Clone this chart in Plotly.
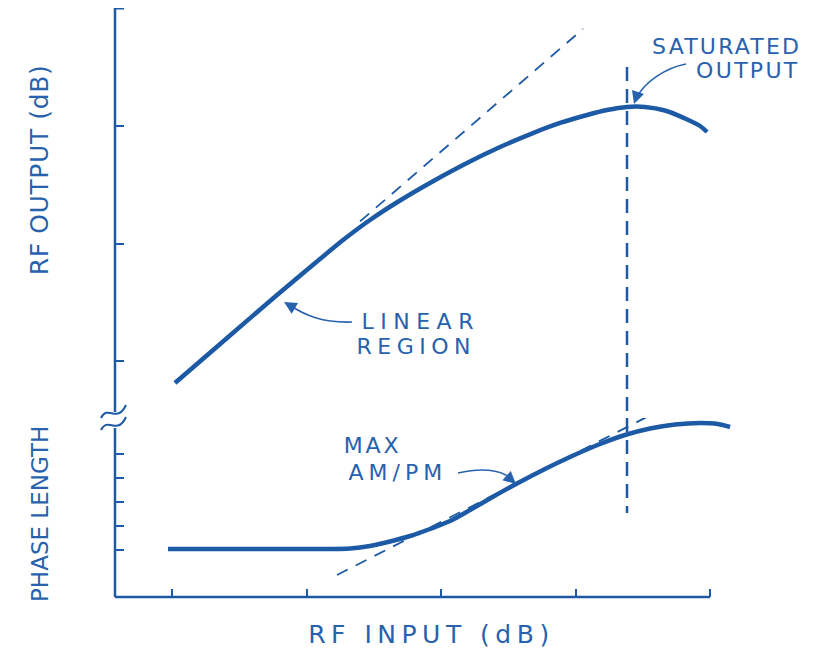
import plotly.graph_objects as go

# ---------------- data (x: RF input units, ticks at 1..5) ----------------
x_ticks = [1, 2, 3, 4, 5]
out_ticks = [1, 2, 3, 4]          # RF output axis (upper panel)
phase_ticks = [1, 2, 3, 4, 5]     # phase length axis (lower panel)

out_x = [1.022, 1.431, 1.781, 2.100, 2.286, 2.472, 2.695, 2.941, 3.193, 3.439,
         3.684, 3.885, 4.086, 4.234, 4.383, 4.517, 4.665, 4.814, 4.926, 4.978]
out_y = [0.813, 1.217, 1.562, 1.868, 2.042, 2.200, 2.366, 2.530, 2.685, 2.821,
         2.940, 3.026, 3.094, 3.136, 3.162, 3.162, 3.132, 3.064, 3.000, 2.949]

lin_x = [2.398, 4.056]            # linear-gain extension (dashed)
lin_y = [2.188, 3.826]

ph_x = [0.970, 1.580, 2.175, 2.323, 2.472, 2.621, 2.770, 2.918, 3.067, 3.216,
        3.364, 3.565, 3.773, 3.959, 4.182, 4.368, 4.554, 4.740, 4.926, 5.059, 5.149]
ph_y = [1.042, 1.042, 1.042, 1.063, 1.167, 1.354, 1.583, 1.875, 2.208, 2.667,
        3.146, 3.771, 4.375, 4.875, 5.417, 5.792, 6.063, 6.229, 6.292, 6.250, 6.125]

amp_x = [2.227, 5.186]            # AM/PM tangent (dashed)
amp_y = [-0.042, 8.417]

sat_x = 4.383                     # input level of saturated output
sat_out_y = [3.502, 0.515]
sat_ph_y = [6.50, 2.54]

# ---------------- styling / layout geometry ----------------
BLUE = "#1d5aa6"
TXT = "#2862ad"
FONT = "DejaVu Sans"
OFF = 8                              # page body margin
W, H = 813 - OFF, 649 - OFF
L, R, T, B = 115, 740, 8, 597        # plot area in page pixels
X0 = 1 - 57 / 134.5
X1 = X0 + (R - L) / 134.5
OUT_RANGE = [1 - (418 - 361) / 117.5, 4 + 0.5 / 117.5]
PH_RANGE = [1 - (B - 550) / 24, 1 + (550 - 365) / 24]


def px(xp):
    return (xp - L) / (R - L)


def py(yp):
    return (B - yp) / (B - T)


fig = go.Figure()
fig.add_trace(go.Scatter(x=out_x, y=out_y, xaxis="x", yaxis="y2", mode="lines",
                         line=dict(color=BLUE, width=4.5, shape="spline", smoothing=0.9),
                         hoverinfo="skip"))
fig.add_trace(go.Scatter(x=lin_x, y=lin_y, xaxis="x", yaxis="y2", mode="lines",
                         line=dict(color=BLUE, width=1.8, dash="12px,9px"), hoverinfo="skip"))
fig.add_trace(go.Scatter(x=[sat_x, sat_x], y=sat_out_y, xaxis="x", yaxis="y2", mode="lines",
                         line=dict(color=BLUE, width=2.5, dash="14px,8px"), hoverinfo="skip"))
fig.add_trace(go.Scatter(x=ph_x, y=ph_y, xaxis="x", yaxis="y", mode="lines",
                         line=dict(color=BLUE, width=4.5, shape="spline", smoothing=0.8),
                         hoverinfo="skip"))
fig.add_trace(go.Scatter(x=amp_x, y=amp_y, xaxis="x", yaxis="y", mode="lines",
                         line=dict(color=BLUE, width=1.8, dash="12px,9px"), hoverinfo="skip"))
fig.add_trace(go.Scatter(x=[sat_x, sat_x], y=sat_ph_y, xaxis="x", yaxis="y", mode="lines",
                         line=dict(color=BLUE, width=2.5, dash="14px,8px"), hoverinfo="skip"))

shapes = []
# axis lines
shapes.append(dict(type="line", xref="x", yref="paper", x0=X0, x1=x_ticks[-1], y0=0, y1=0,
                   line=dict(color=BLUE, width=2.5)))
shapes.append(dict(type="line", xref="paper", yref="y2", x0=0, x1=0,
                   y0=OUT_RANGE[1], y1=1 - (412 - 361) / 117.5, line=dict(color=BLUE, width=2.5)))
shapes.append(dict(type="line", xref="paper", yref="y", x0=0, x1=0,
                   y0=PH_RANGE[0], y1=1 + (550 - 428) / 24, line=dict(color=BLUE, width=2.5)))
# short cap tick at the top end of the output axis
shapes.append(dict(type="line", xref="paper", yref="y2", x0=0, x1=px(124),
                   y0=out_ticks[-1], y1=out_ticks[-1], line=dict(color=BLUE, width=2)))


def path(pts):
    s = "M %.4f %.4f C" % (px(pts[0][0]), py(pts[0][1]))
    for p in pts[1:]:
        s += " %.4f %.4f" % (px(p[0]), py(p[1]))
    return s


# axis break squiggles
for dy in (0, 12):
    shapes.append(dict(type="path", xref="paper", yref="paper",
                       path=path([(101, 418 + dy), (108, 404 + dy), (117, 424 + dy), (126, 405 + dy)]),
                       line=dict(color=BLUE, width=2)))
# curved arrow bodies
for pts in ([(352, 322), (322, 323), (305, 315), (291, 306)],
            [(686, 64), (665, 68), (645, 82), (637, 97)],
            [(458, 473), (480, 468), (500, 469), (510, 478)]):
    shapes.append(dict(type="path", xref="paper", yref="paper", path=path(pts),
                       line=dict(color=TXT, width=1.6)))

ann = []


def label(text, xp, yp, size=22, angle=0):
    ann.append(dict(text=text, x=px(xp), y=py(yp), xref="paper", yref="paper",
                    showarrow=False, xanchor="center", yanchor="middle", textangle=angle,
                    font=dict(family=FONT, size=size, color=TXT)))


label("SATURATED", 726, 46)
label("OUTPUT", 748, 70)
label("LINEAR", 420, 321)
label("REGION", 416, 346)
label("MAX", 372, 445)
label("AM/PM", 398, 472)
label("RF OUTPUT (dB)", 39, 170, size=25, angle=-90)
label("PHASE LENGTH", 40, 514, size=23, angle=-90)
label("RF INPUT (dB)", 431, 634, size=25)

# arrow heads
for hx, hy, ax, ay in ((284, 302, 12, 7), (634, 104, 4, -12), (516, 484, -9, -8)):
    ann.append(dict(text="", x=px(hx), y=py(hy), xref="paper", yref="paper", showarrow=True,
                    ax=ax, ay=ay, arrowhead=2, arrowsize=1.4, arrowwidth=1.8, arrowcolor=TXT))

fig.update_layout(
    width=W, height=H, margin=dict(l=L - OFF, r=W - (R - OFF), t=T - OFF, b=H - (B - OFF)),
    paper_bgcolor="white", plot_bgcolor="white", showlegend=False,
    shapes=shapes, annotations=ann,
    xaxis=dict(range=[X0, X1], tickvals=x_ticks, ticks="inside", ticklen=8, tickwidth=2,
               tickcolor=BLUE, showticklabels=False, showgrid=False, zeroline=False,
               showline=False, anchor="y"),
    yaxis=dict(domain=[0, py(365)], range=PH_RANGE, tickvals=phase_ticks, ticks="inside",
               ticklen=9, tickwidth=2, tickcolor=BLUE, showticklabels=False, showgrid=False,
               zeroline=False, showline=False, anchor="x"),
    yaxis2=dict(domain=[py(418), 1], range=OUT_RANGE, tickvals=out_ticks, ticks="inside",
                ticklen=9, tickwidth=2, tickcolor=BLUE, showticklabels=False, showgrid=False,
                zeroline=False, showline=False, anchor="x"),
)

# hand-lettering is widely spaced: widen the letter spacing of the labels
spacing = {"SATURATED": 2.2, "OUTPUT": 2.3, "LINEAR": 6.5, "REGION": 5.5, "MAX": 2.8,
           "AM/PM": 5, "RF OUTPUT (dB)": 0.6, "PHASE LENGTH": 0, "RF INPUT (dB)": 5.5}
js = """
var gd = document.getElementById('{plot_id}');
var sp = %s;
function fix() {
  gd.querySelectorAll('.annotation-text').forEach(function (t) {
    var s = sp[t.textContent];
    if (s !== undefined) { t.style.letterSpacing = s + 'px'; }
  });
}
fix();
gd.on('plotly_afterplot', fix);
""" % str(spacing).replace("'", '"')

fig.write_html("out.html", post_script=js)
